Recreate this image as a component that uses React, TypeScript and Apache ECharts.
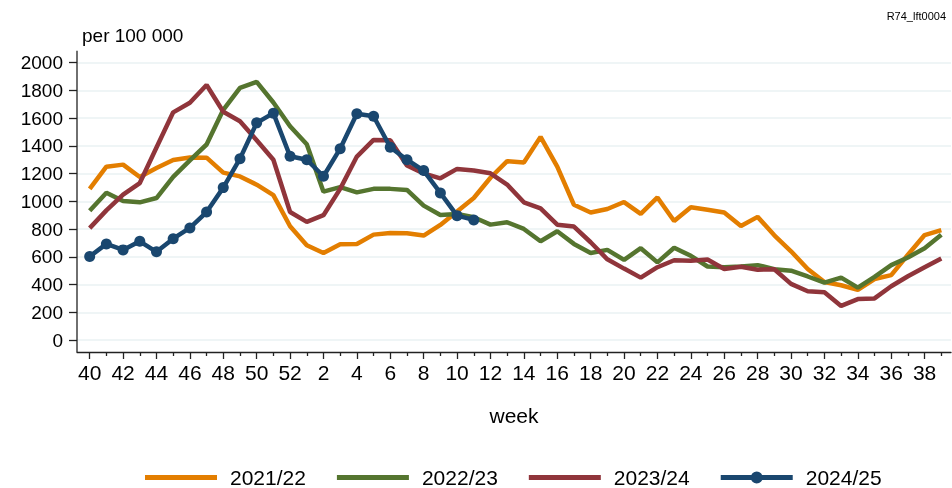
import React, { useEffect, useRef } from "react";
import * as echarts from "echarts";

const weeks = [40, 41, 42, 43, 44, 45, 46, 47, 48, 49, 50, 51, 52, 1, 2, 3, 4, 5, 6, 7, 8, 9, 10, 11, 12, 13, 14, 15, 16, 17, 18, 19, 20, 21, 22, 23, 24, 25, 26, 27, 28, 29, 30, 31, 32, 33, 34, 35, 36, 37, 38, 39];

const season2122 = [1090, 1250, 1265, 1176, 1240, 1298, 1316, 1315, 1207, 1180, 1120, 1045, 820, 683, 628, 690, 693, 760, 772, 770, 753, 830, 926, 1024, 1170, 1290, 1280, 1465, 1250, 975, 920, 945, 995, 910, 1028, 858, 958, 940, 920, 822, 888, 755, 640, 512, 418, 395, 362, 440, 468, 615, 757, 793];
const season2223 = [932, 1062, 1002, 993, 1024, 1176, 1296, 1410, 1660, 1819, 1862, 1713, 1542, 1412, 1070, 1103, 1065, 1090, 1090, 1082, 969, 902, 909, 885, 832, 849, 801, 712, 784, 693, 628, 650, 578, 662, 560, 665, 607, 530, 525, 530, 540, 511, 500, 458, 414, 450, 378, 455, 540, 595, 662, 759];
const season2324 = [807, 935, 1048, 1132, 1388, 1642, 1711, 1839, 1646, 1578, 1441, 1300, 923, 852, 900, 1090, 1323, 1443, 1440, 1258, 1202, 1166, 1234, 1222, 1202, 1121, 993, 950, 832, 818, 705, 582, 515, 450, 525, 575, 572, 580, 512, 528, 507, 510, 405, 352, 345, 246, 295, 300, 388, 460, 525, 588];
const season2425 = [602, 693, 650, 712, 636, 731, 808, 923, 1099, 1308, 1566, 1636, 1325, 1300, 1181, 1380, 1632, 1614, 1390, 1300, 1222, 1061, 897, 866];

const seriesNames = ["2021/22", "2022/23", "2023/24", "2024/25"];
const colors = ["#E37E00", "#55752F", "#90353B", "#1A476F"];

const FONT = "'Liberation Sans', Arial, Helvetica, sans-serif";

const ICON_BAR = "path://M0,0 L0.01,0 L0.01,0.01 Z M0,12 L0.01,12 L0.01,11.99 Z M0,3.5 L72,3.5 L72,8.5 L0,8.5 Z";
const ICON_BAR_DOT = "path://M0,3.5 L72,3.5 L72,8.5 L0,8.5 Z M30,6 A6,6 0 1 1 42,6 A6,6 0 1 1 30,6 Z";

export default function App() {
  const ref = useRef<HTMLDivElement>(null);
  useEffect(() => {
    if (!ref.current) return;
    const chart = echarts.init(ref.current, undefined, { renderer: "svg" });
    const allIdx = weeks.map((_, i) => i);
    const majorIdx = allIdx.filter((i) => i % 2 === 0);
    const minorIdx = allIdx.filter((i) => i % 2 === 1);
    const toPairs = (arr: number[]) => arr.map((v, i) => [i, v]);
    const datasets = [season2122, season2223, season2324, season2425];

    const gridLeft = 77;
    const gridTop = 62.7;
    const gridBottomY = 340;

    chart.setOption({
      animation: false,
      textStyle: { fontFamily: FONT },
      grid: { left: gridLeft, right: 1, top: gridTop, bottom: 488 - gridBottomY, containLabel: false },
      xAxis: [
        {
          type: "value",
          min: -0.76,
          max: 51.58,
          offset: 12,
          axisLine: { show: true, onZero: false, lineStyle: { color: "#222", width: 1.3 } },
          axisTick: { show: true, length: 7, customValues: majorIdx, lineStyle: { color: "#222", width: 1.3 } },
          axisLabel: {
            show: true,
            customValues: majorIdx,
            formatter: (v: number) => String(weeks[Math.round(v)] ?? ""),
            fontSize: 21,
            color: "#000",
            margin: 10,
            fontFamily: FONT,
          },
          splitLine: { show: false },
        },
        {
          type: "value",
          min: -0.76,
          max: 51.58,
          offset: 12,
          position: "bottom",
          axisLine: { show: false, onZero: false },
          axisTick: { show: true, length: 4, customValues: minorIdx, lineStyle: { color: "#222", width: 1.3 } },
          axisLabel: { show: false },
          splitLine: { show: false },
        },
      ],
      yAxis: {
        type: "value",
        min: 0,
        max: 2000,
        interval: 200,
        axisLine: { show: false, onZero: false },
        axisTick: { show: true, length: 8, lineStyle: { color: "#222", width: 1.3 } },
        axisLabel: { fontSize: 19, color: "#000", margin: 14, fontFamily: FONT, formatter: (v: number) => String(v) },
        splitLine: { show: true, lineStyle: { color: "#EAF2F3", width: 1.6 } },
      },
      legend: {
        left: 140,
        top: 462,
        itemWidth: 72,
        itemHeight: 12,
        itemGap: 31,
        itemStyle: { borderWidth: 0 },
        textStyle: { fontSize: 21, color: "#000", fontFamily: FONT, padding: [0, 0, 0, 8] },
        data: seriesNames.map((n, k) => ({ name: n, icon: k === 3 ? ICON_BAR_DOT : ICON_BAR })),
      },
      graphic: [
        {
          type: "line",
          shape: { x1: gridLeft, y1: 50.7, x2: gridLeft, y2: 352 },
          style: { stroke: "#222", lineWidth: 1.3 },
          z: 10,
        },
        {
          type: "text",
          left: 82,
          top: 26,
          style: { text: "per 100 000", fontSize: 19, fill: "#000", fontFamily: FONT },
        },
        {
          type: "text",
          x: 514,
          y: 415,
          style: { text: "week", fontSize: 21, fill: "#000", fontFamily: FONT, textAlign: "center", textVerticalAlign: "middle" },
        },
        {
          type: "text",
          x: 946,
          y: 16,
          style: { text: "R74_lft0004", fontSize: 11, fill: "#000", fontFamily: FONT, textAlign: "right", textVerticalAlign: "middle" },
        },
      ],
      series: datasets.map((d, k) => ({
        name: seriesNames[k],
        type: "line",
        xAxisIndex: 0,
        data: toPairs(d),
        symbol: k === 3 ? "circle" : "none",
        symbolSize: 11,
        showSymbol: k === 3,
        color: colors[k],
        lineStyle: { width: 4.5, color: colors[k] },
        itemStyle: { color: colors[k] },
        z: 2 + k,
      })),
    });
    return () => chart.dispose();
  }, []);
  return <div ref={ref} style={{ position: "fixed", left: 0, top: 0, width: 952, height: 488 }} />;
}
